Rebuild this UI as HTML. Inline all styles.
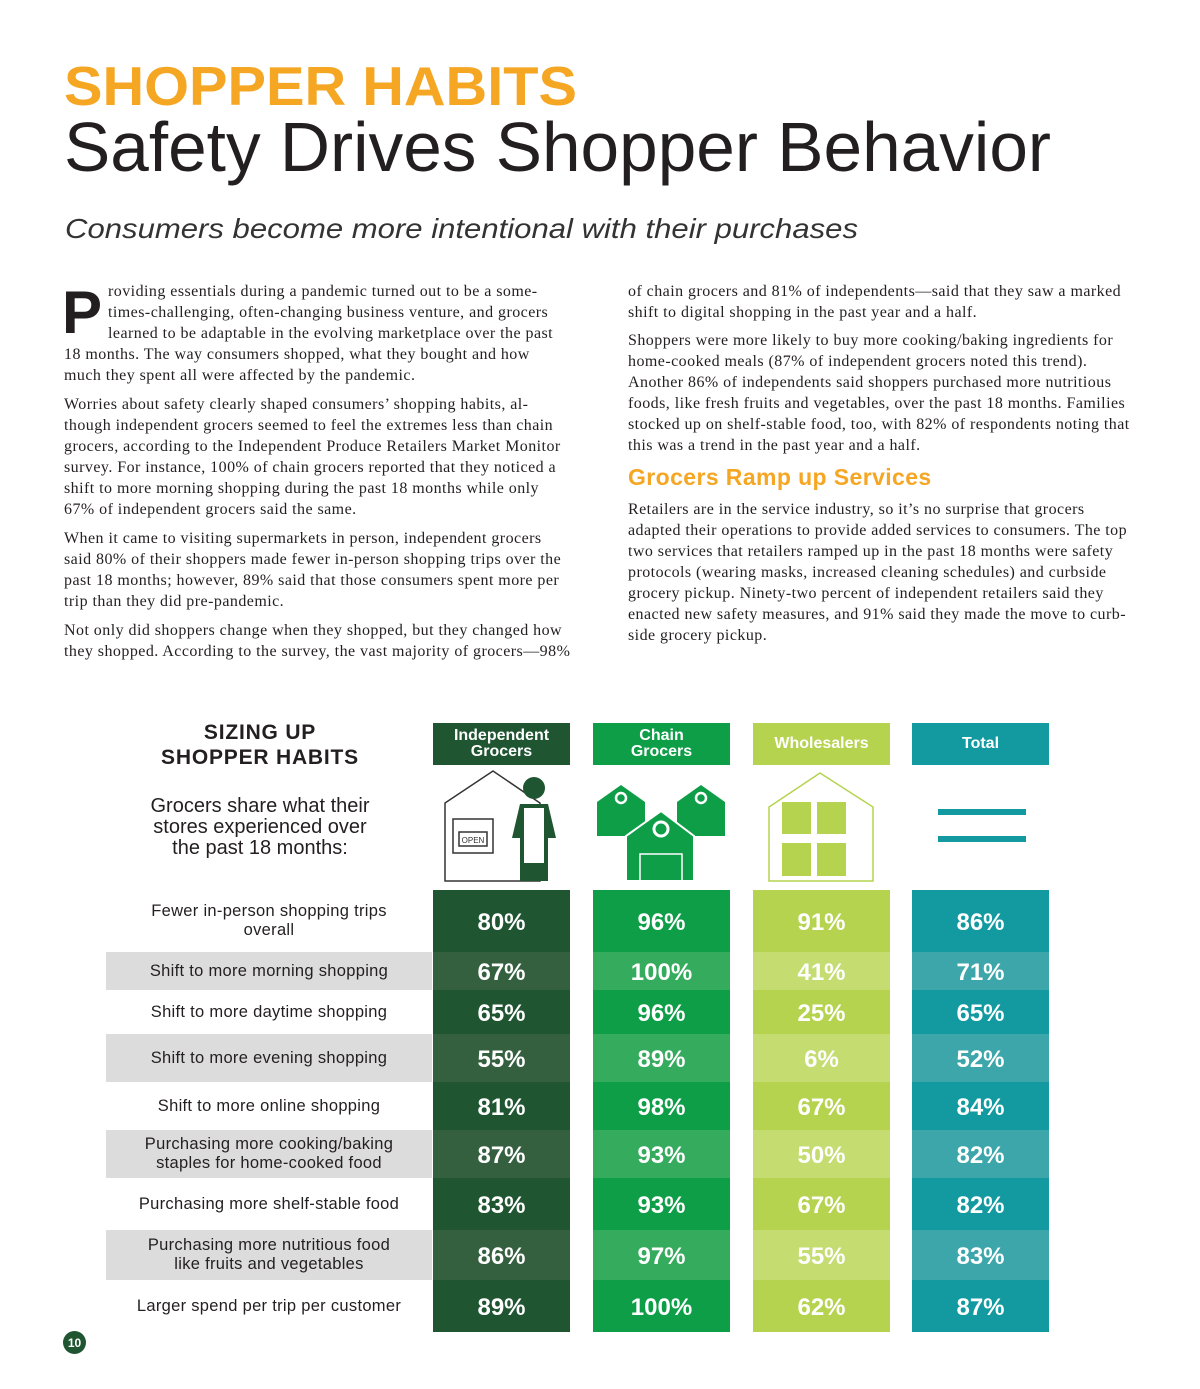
<!DOCTYPE html>
<html><head><meta charset="utf-8">
<style>
body{margin:0;background:#fff;}
#page{position:relative;width:1200px;height:1389px;overflow:hidden;background:#fff;font-family:"Liberation Sans",sans-serif;}
.p{position:absolute;font-family:"Liberation Serif",serif;font-size:16px;letter-spacing:0.45px;line-height:21px;color:#231f20;white-space:nowrap;}
.lab{position:absolute;left:106px;width:326px;display:flex;align-items:center;justify-content:center;text-align:center;font-size:16.5px;line-height:19px;color:#231f20;letter-spacing:0.3px;}
.cell{position:absolute;display:flex;align-items:center;justify-content:center;color:#fff;font-weight:bold;font-size:24px;padding-top:4px;box-sizing:border-box;}
.hdr{position:absolute;top:723px;height:42px;display:flex;align-items:center;justify-content:center;text-align:center;color:#fff;font-weight:bold;font-size:16px;line-height:16px;}
</style></head><body>
<div id="page">
<svg width="1200" height="260" style="position:absolute;left:0;top:0">
<text x="64" y="105" font-family="Liberation Sans" font-weight="bold" font-size="55" fill="#f5a623" textLength="513" lengthAdjust="spacingAndGlyphs">SHOPPER HABITS</text>
<text x="64" y="171" font-family="Liberation Sans" font-size="70" fill="#231f20" textLength="987" lengthAdjust="spacingAndGlyphs">Safety Drives Shopper Behavior</text>
<text x="65" y="238" font-family="Liberation Sans" font-style="italic" font-size="28" fill="#333" textLength="793" lengthAdjust="spacingAndGlyphs">Consumers become more intentional with their purchases</text>
</svg>
<div class="p" style="left:62px;top:283px;font-size:60px;line-height:60px;font-family:'Liberation Sans',sans-serif;font-weight:bold;letter-spacing:0">P</div>
<div class="p" style="left:108px;top:281px">roviding essentials during a pandemic turned out to be a some-<br>times-challenging, often-changing business venture, and grocers<br>learned to be adaptable in the evolving marketplace over the past</div>
<div class="p" style="left:64px;top:344px">18 months. The way consumers shopped, what they bought and how<br>much they spent all were affected by the pandemic.</div>
<div class="p" style="left:64px;top:394px">Worries about safety clearly shaped consumers’ shopping habits, al-<br>though independent grocers seemed to feel the extremes less than chain<br>grocers, according to the Independent Produce Retailers Market Monitor<br>survey. For instance, 100% of chain grocers reported that they noticed a<br>shift to more morning shopping during the past 18 months while only<br>67% of independent grocers said the same.</div>
<div class="p" style="left:64px;top:528px">When it came to visiting supermarkets in person, independent grocers<br>said 80% of their shoppers made fewer in-person shopping trips over the<br>past 18 months; however, 89% said that those consumers spent more per<br>trip than they did pre-pandemic.</div>
<div class="p" style="left:64px;top:620px">Not only did shoppers change when they shopped, but they changed how<br>they shopped. According to the survey, the vast majority of grocers—98%</div>
<div class="p" style="left:628px;top:281px">of chain grocers and 81% of independents—said that they saw a marked<br>shift to digital shopping in the past year and a half.</div>
<div class="p" style="left:628px;top:330px">Shoppers were more likely to buy more cooking/baking ingredients for<br>home-cooked meals (87% of independent grocers noted this trend).<br>Another 86% of independents said shoppers purchased more nutritious<br>foods, like fresh fruits and vegetables, over the past 18 months. Families<br>stocked up on shelf-stable food, too, with 82% of respondents noting that<br>this was a trend in the past year and a half.</div>
<div style="position:absolute;left:628px;top:464px;font-size:23px;font-weight:bold;color:#f5a623;white-space:nowrap;letter-spacing:0.4px">Grocers Ramp up Services</div>
<div class="p" style="left:628px;top:499px">Retailers are in the service industry, so it’s no surprise that grocers<br>adapted their operations to provide added services to consumers. The top<br>two services that retailers ramped up in the past 18 months were safety<br>protocols (wearing masks, increased cleaning schedules) and curbside<br>grocery pickup. Ninety-two percent of independent retailers said they<br>enacted new safety measures, and 91% said they made the move to curb-<br>side grocery pickup.</div>

<div style="position:absolute;left:110px;top:720px;width:300px;text-align:center;font-weight:bold;font-size:21px;line-height:25px;color:#231f20;letter-spacing:0.8px">SIZING UP<br>SHOPPER HABITS</div>
<div style="position:absolute;left:110px;top:796px;width:300px;text-align:center;font-size:20px;line-height:21px;color:#231f20">Grocers share what their<br>stores experienced over<br>the past 18 months:</div>

<svg width="1200" height="130" style="position:absolute;left:0;top:768px">
 <g fill="none" stroke="#333" stroke-width="1.5">
  <path d="M445 113 V35 L493 3 L540 35 V113 Z"/>
  <rect x="453" y="51" width="40" height="34"/>
  <rect x="459" y="64" width="28" height="14"/>
  <text x="473" y="75" font-size="8" fill="#333" stroke="none" text-anchor="middle" font-family="Liberation Sans">OPEN</text>
  <circle cx="534" cy="20" r="11" fill="#1f5531" stroke="none"/>
  <path d="M520 36 H548 L556 70 H548 V113 H520 V70 H512 Z" fill="#1f5531" stroke="none"/>
  <path d="M524 40 H544 V95 H524 Z" fill="#fff" stroke="none"/>
 </g>
 <g fill="#0f9e48">
  <path d="M597 68 V34 L621 17 L645 34 V68 Z"/><circle cx="621" cy="30" r="5" fill="none" stroke="#fff" stroke-width="2.5"/>
  <path d="M677 68 V34 L701 17 L725 34 V68 Z"/><circle cx="701" cy="30" r="5" fill="none" stroke="#fff" stroke-width="2.5"/>
  <path d="M626 113 V68 L661 43 L694 68 V113 Z" stroke="#fff" stroke-width="2"/><circle cx="661" cy="61" r="7" fill="none" stroke="#fff" stroke-width="3"/>
  <rect x="640" y="86" width="42" height="27" fill="none" stroke="#fff" stroke-width="1.5"/>
 </g>
 <g>
  <path d="M769 113 V39 L820 5 L873 39 V113 Z" fill="none" stroke="#b5d34e" stroke-width="1.5"/>
  <rect x="782" y="34" width="29" height="32" fill="#b5d34e"/><rect x="817" y="34" width="29" height="32" fill="#b5d34e"/>
  <rect x="782" y="75" width="29" height="33" fill="#b5d34e"/><rect x="817" y="75" width="29" height="33" fill="#b5d34e"/>
 </g>
 <g fill="#129aa0">
  <rect x="938" y="41" width="88" height="6"/><rect x="938" y="68" width="88" height="6"/>
 </g>
</svg>
<div id="table"></div>
<div style="position:absolute;left:63px;top:1331px;width:23px;height:23px;border-radius:50%;background:#1f5531;color:#fff;font-size:12px;font-weight:bold;display:flex;align-items:center;justify-content:center">10</div>
</div>
<script>
const categories = ["Fewer in-person shopping trips<br>overall","Shift to more morning shopping","Shift to more daytime shopping","Shift to more evening shopping","Shift to more online shopping","Purchasing more cooking/baking<br>staples for home-cooked food","Purchasing more shelf-stable food","Purchasing more nutritious food<br>like fruits and vegetables","Larger spend per trip per customer"];
const seriesNames = ["Independent<br>Grocers","Chain<br>Grocers","Wholesalers","Total"];
const independent = [80,67,65,55,81,87,83,86,89];
const chain = [96,100,96,89,98,93,93,97,100];
const wholesalers = [91,41,25,6,67,50,67,55,62];
const total = [86,71,65,52,84,82,82,83,87];
const series = [independent, chain, wholesalers, total];
const rowEdges = [890,952,990,1034,1082,1130,1178,1230,1280,1332];
const colX = [433,593,753,912], colW = 137;
const base = ["#1f5531","#0f9e48","#b5d34e","#129aa0"];
const shade = ["#35603f","#34ab5d","#c4dc70","#3da6aa"];
const t = document.getElementById('table');
seriesNames.forEach((n,j)=>{
  const h=document.createElement('div'); h.className='hdr';
  
  
  h.style.left=colX[j]+'px'; h.style.width=colW+'px'; h.style.background=base[j]; h.innerHTML=n; t.appendChild(h);
});
categories.forEach((c,i)=>{
  const y=rowEdges[i], hgt=rowEdges[i+1]-y, odd=i%2===1;
  const l=document.createElement('div'); l.className='lab';
  
  
  l.style.top=y+'px'; l.style.height=hgt+'px'; l.style.background=odd?'#dcdcdc':'transparent'; l.innerHTML=c; t.appendChild(l);
  series.forEach((s,j)=>{
    const d=document.createElement('div'); d.className='cell';
    
    
    d.style.left=colX[j]+'px'; d.style.width=colW+'px'; d.style.top=y+'px'; d.style.height=hgt+'px';
    d.style.background=odd?shade[j]:base[j]; d.textContent=s[i]+'%'; t.appendChild(d);
  });
});
</script>
</body></html>
